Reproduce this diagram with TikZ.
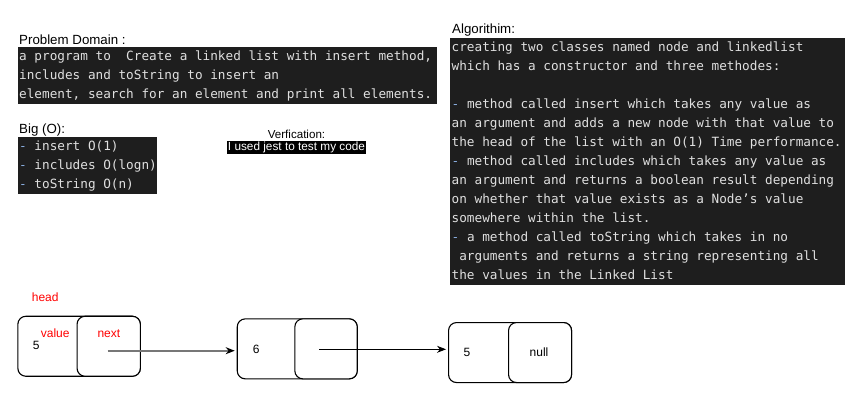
\documentclass[tikz,border=0pt]{standalone}
\usepackage{fontspec}
\setmainfont{Liberation Sans}
\newfontfamily\monofont{DejaVu Sans Mono}
\usetikzlibrary{arrows.meta}
\definecolor{codebg}{HTML}{1E1E1E}
\definecolor{codefg}{HTML}{E0E0E0}
\definecolor{dashblue}{HTML}{8AAEE0}
\definecolor{labred}{HTML}{FF0000}
\definecolor{ptrgray}{HTML}{777777}
\newcommand{\md}{\textcolor{dashblue}{-}}
\tikzset{
  darkbox/.style={fill=codebg, draw=none, inner sep=0, anchor=north west},
  monotext/.style={align=left, inner sep=0, anchor=north west, text=codefg,
    font=\fontsize{12.7}{19}\selectfont\monofont},
  title/.style={inner sep=0, anchor=base west, font=\fontsize{13.3}{15}\selectfont},
  cellbox/.style={draw=black, fill=white, rounded corners=8pt, line width=1.1pt, inner sep=0, minimum height=60pt},
  lab/.style={inner sep=0, anchor=base west, font=\fontsize{12}{14}\selectfont},
  redlab/.style={lab, text=labred},
  ptr/.style={-{Stealth[length=9pt,width=7pt]}, line width=0.9pt, black},
  grayptr/.style={-{Stealth[length=9pt,width=7pt,color=black]}, line width=1.7pt, draw=ptrgray},
}
\begin{document}
\begin{tikzpicture}[x=1pt,y=-1pt]
\useasboundingbox[fill=white] (0,0) rectangle (858,413);

% Problem domain
\node[title] (pdtitle) at (19,44) {Problem Domain :};
\node[darkbox, minimum width=419pt, minimum height=57pt] (pdbox) at (18,47) {};
\node[monotext] (pdtext) at (19,47) {\strut a program to~ Create a linked list with insert method,\\
\strut includes and toString to insert an\\
\strut element, search for an element and print all elements.};

% Big O
\node[title] (bigtitle) at (19,133.3) {Big (O):};
\node[darkbox, minimum width=139pt, minimum height=57pt] (bigbox) at (18,137) {};
\node[monotext] (bigtext) at (19,137) {\strut\md{} insert O(1)\\
\strut\md{} includes O(logn)\\
\strut\md{} toString O(n)};

% Verification
\node[inner sep=0, anchor=base, font=\fontsize{11.6}{13}\selectfont] (vertitle) at (296.5,138.3) {Verfication:};
\node[fill=black, text=white, inner xsep=1pt, inner ysep=1pt, text height=8.6pt, text depth=2.4pt,
  font=\fontsize{11.8}{13}\selectfont] (vertext) at (296.5,147.8) {I used jest to test my code};

% Algorithm
\node[title] (algtitle) at (452,33.3) {Algorithim:};
\node[darkbox, minimum width=395pt, minimum height=247pt] (algbox) at (450,38) {};
\node[monotext] (algtext) at (451.5,38) {\strut creating two classes named node and linkedlist\\
\strut which has a constructor and three methodes:\\
\strut\\
\strut\md{} method called insert which takes any value as\\
\strut an argument and adds a new node with that value to\\
\strut the head of the list with an O(1) Time performance.\\
\strut\md{} method called includes which takes any value as\\
\strut an argument and returns a boolean result depending\\
\strut on whether that value exists as a Node’s value\\
\strut somewhere within the list.\\
\strut\md{} a method called toString which takes in no\\
\strut\ arguments and returns a string representing all\\
\strut the values in the Linked List};

% Linked list
\node[redlab] (head) at (31.7,301.7) {head};

\node[cellbox, minimum width=122.5pt, anchor=north west] (n1) at (17.3,315.7) {};
\node[cellbox, minimum width=63.3pt, anchor=north east] (n1next) at (n1.north east) {};
\node[redlab] (n1vallab) at (40.7,337.7) {value};
\node[lab] (n1val) at (32.7,349) {5};
\node[redlab] (n1nextlab) at (97.3,337.7) {next};

\node[cellbox, minimum width=120pt, anchor=north west] (n2) at (236.7,318.3) {};
\node[cellbox, minimum width=62.4pt, anchor=north east] (n2next) at (n2.north east) {};
\node[lab, anchor=west] (n2val) at (252.7,349) {6};

\node[cellbox, minimum width=123pt, anchor=north west] (n3) at (448,322) {};
\node[cellbox, minimum width=63pt, anchor=north east] (n3next) at (n3.north east) {};
\node[lab, anchor=west] (n3val) at (463.3,352) {5};
\node[lab, anchor=center] (n3null) at (539,352) {null};

\coordinate (p1) at (107.7,350.7);
\coordinate (p2) at (319.3,349.3);
\draw[grayptr] (p1) -- (p1 -| n2.west) [shorten >=2pt];
\draw[ptr] (p2) -- (p2 -| n3.west) [shorten >=2pt];
\end{tikzpicture}
\end{document}
